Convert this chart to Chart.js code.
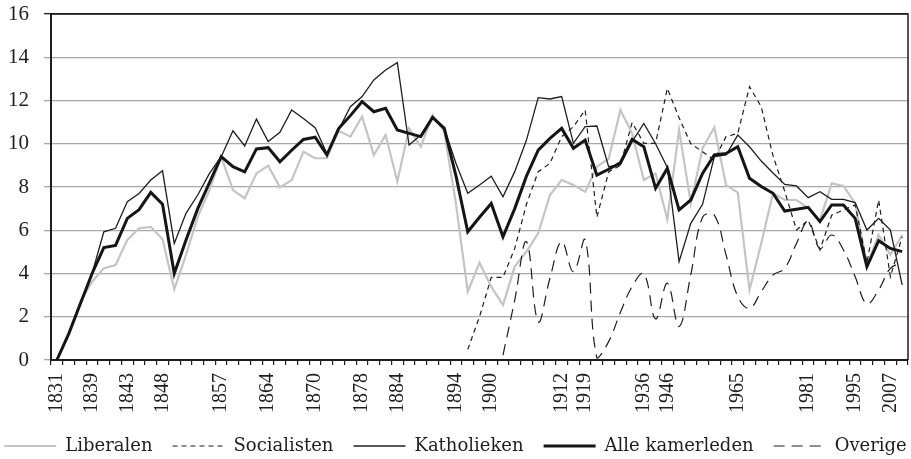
<!DOCTYPE html>
<html>
<head>
<meta charset="utf-8">
<script src="https://cdn.jsdelivr.net/npm/chart.js@4/dist/chart.umd.min.js"></script>
<style>
  html, body { margin: 0; padding: 0; background: #fff; }
  #wrap { width: 911px; height: 459px; }
</style>
</head>
<body>
<div id="wrap"><canvas id="chart" width="911" height="459"></canvas></div>
<script>
// election years (categories), only some of them get a label
const years = [1831,1833,1835,1839,1841,1842,1843,1845,1847,1848,1850,1852,1854,1856,1857,1859,1861,1863,1864,1866,
  1868,1870,1870,1872,1874,1876,1878,1880,1882,1884,1886,1888,1890,1892,1894,1896,1898,1900,1902,1904,
  1906,1908,1910,1912,1914,1919,1921,1925,1929,1932,1936,1939,1946,1949,1950,1954,1958,1961,1965,1968,
  1971,1974,1977,1978,1981,1985,1987,1991,1995,1999,2003,2007,2010];
const shownYears = [1831,1839,1843,1848,1857,1864,1870,1878,1884,1894,1900,1912,1919,1936,1946,1965,1981,1995,2007];

const yTicks = [0, 2, 4, 6, 8, 10, 12, 14, 16];

const liberalen = [0,1.2,2.7,3.62,4.24,4.39,5.55,6.09,6.16,5.58,3.27,4.86,6.63,7.86,9.4,7.86,7.48,8.63,8.99,7.98,
  8.32,9.63,9.33,9.33,10.6,10.33,11.25,9.48,10.4,8.25,10.71,9.86,11.33,10.56,7.2,3.16,4.5,3.39,2.54,4.32,
  5.01,5.86,7.63,8.32,8.09,7.78,8.94,9.3,11.56,10.48,8.32,8.63,6.5,10.64,7.24,9.79,10.76,8.09,7.74,3.24,
  5.4,7.71,7.4,7.4,7.01,6.47,8.17,8.05,7.24,4.39,5.78,4.86,5.78];

const socialisten = [null,null,null,null,null,null,null,null,null,null,null,null,null,null,null,null,null,null,null,null,
  null,null,null,null,null,null,null,null,null,null,null,null,null,null,null,0.49,2.0,3.82,3.82,5.16,
  7.2,8.71,9.09,10.33,10.79,11.56,6.6,8.7,9.0,10.98,10.02,10.02,12.56,11.2,10.0,9.63,9.25,10.33,10.48,12.64,
  11.71,9.45,7.8,6.01,6.47,5.09,6.7,6.94,7.17,4.5,7.4,3.85,5.7];

const katholieken = [0,1.2,2.6,4.0,5.93,6.09,7.32,7.7,8.32,8.75,5.39,6.78,7.63,8.63,9.4,10.6,9.9,11.14,10.1,10.53,
  11.56,11.17,10.74,9.55,10.64,11.71,12.18,12.95,13.41,13.75,9.94,10.4,11.25,10.71,9.09,7.71,8.09,8.5,7.55,8.71,
  10.17,12.13,12.07,12.18,10.02,10.79,10.82,8.94,9.02,10.1,10.94,10.0,8.9,4.55,6.32,7.2,9.4,9.48,10.4,9.86,
  9.2,8.65,8.12,8.05,7.51,7.78,7.43,7.43,7.28,6.01,6.55,6.01,3.47];

const alleKamerleden = [0,1.2,2.6,4.0,5.2,5.3,6.55,6.95,7.75,7.2,4.0,5.55,7.0,8.2,9.4,8.94,8.7,9.76,9.82,9.17,
  9.7,10.2,10.3,9.48,10.7,11.3,11.95,11.48,11.64,10.64,10.48,10.33,11.22,10.71,8.5,5.93,6.6,7.24,5.7,7.0,
  8.5,9.7,10.25,10.71,9.79,10.17,8.55,8.82,9.12,10.2,9.86,7.94,8.86,6.94,7.4,8.63,9.48,9.55,9.86,8.4,
  8.02,7.71,6.89,6.97,7.06,6.4,7.17,7.17,6.55,4.32,5.52,5.16,5.01];

const overige = [null,null,null,null,null,null,null,null,null,null,null,null,null,null,null,null,null,null,null,null,
  null,null,null,null,null,null,null,null,null,null,null,null,null,null,null,null,null,null,0.23,2.77,
  5.47,1.77,3.78,5.47,4.08,5.55,0.1,0.85,2.2,3.4,4.0,1.9,3.55,1.55,3.95,6.6,6.7,4.86,2.93,2.39,
  3.16,3.93,4.24,5.39,6.4,5.16,5.78,5.09,3.85,2.6,3.24,4.24,4.5];

const ink = '#1e1e1e';

// black frame on top and right side of the plot
const framePlugin = {
  id: 'frame',
  afterDatasetsDraw(chart) {
    const { ctx, chartArea: a } = chart;
    ctx.save();
    ctx.strokeStyle = ink;
    ctx.lineWidth = 1.5;
    ctx.beginPath();
    ctx.moveTo(a.left, a.top);
    ctx.lineTo(a.right, a.top);
    ctx.lineTo(a.right, a.bottom);
    ctx.stroke();
    ctx.restore();
  }
};

// one row legend with long line samples, built from the datasets
const legendPlugin = {
  id: 'lineLegend',
  afterDraw(chart) {
    const ctx = chart.ctx;
    const sample = 52, gap = 9, spacing = 20, y = 446;
    ctx.save();
    ctx.font = '18px "DejaVu Serif"';
    const items = chart.data.datasets.map(ds => ({ ds, w: ctx.measureText(ds.label).width }));
    const total = items.reduce((s, it) => s + sample + gap + it.w, 0) + spacing * (items.length - 1);
    let x = (chart.width - total) / 2;
    items.forEach(({ ds, w }) => {
      ctx.strokeStyle = ds.borderColor;
      ctx.lineWidth = ds.borderWidth;
      ctx.setLineDash(ds.borderDash);
      ctx.beginPath();
      ctx.moveTo(x, y);
      ctx.lineTo(x + sample, y);
      ctx.stroke();
      ctx.setLineDash([]);
      ctx.fillStyle = ink;
      ctx.textBaseline = 'middle';
      ctx.fillText(ds.label, x + sample + gap, y);
      x += sample + gap + w + spacing;
    });
    ctx.restore();
  }
};

function line(label, data, color, width, dash, order, tension) {
  return {
    label,
    data,
    borderColor: color,
    backgroundColor: color,
    borderWidth: width,
    borderDash: dash,
    pointRadius: 0,
    tension: tension || 0,
    order
  };
}

new Chart(document.getElementById('chart'), {
  type: 'line',
  data: {
    labels: years.map(String),
    datasets: [
      line('Liberalen', liberalen, '#c4c4c4', 2.2, [], 3),
      line('Socialisten', socialisten, ink, 1.2, [5, 4], 2),
      line('Katholieken', katholieken, ink, 1.3, [], 1),
      line('Alle kamerleden', alleKamerleden, '#151515', 3, [], 0),
      line('Overige', overige, ink, 1.2, [11, 7], 2, 0.4)
    ]
  },
  options: {
    responsive: false,
    animation: false,
    events: [],
    layout: { padding: { top: 14, right: 3, left: 0, bottom: 47 } },
    plugins: {
      tooltip: { enabled: false },
      legend: { display: false }
    },
    scales: {
      x: {
        offset: true,
        grid: {
          offset: true,
          drawOnChartArea: false,
          drawTicks: true,
          tickLength: 5,
          color: ink,
          lineWidth: 1.2
        },
        border: { color: ink, width: 2 },
        ticks: {
          autoSkip: false,
          minRotation: 90,
          maxRotation: 90,
          padding: 8,
          color: ink,
          font: { family: 'Liberation Serif', size: 20 },
          callback: (v, i) => {
            const y = years[i];
            return shownYears.includes(y) && years[i + 1] !== y ? String(y) : '';
          }
        },
        afterFit: s => {
          s.height = 52;
          s.paddingLeft = 0;
          s.paddingRight = 0;
        }
      },
      y: {
        min: 0,
        max: 16,
        afterBuildTicks: s => { s.ticks = yTicks.map(v => ({ value: v })); },
        grid: {
          color: c => c.tick && c.tick.value === 16 ? ink : '#a8a8a8',
          lineWidth: 1.3,
          tickLength: 7
        },
        border: { color: ink, width: 2 },
        ticks: {
          padding: 15,
          color: ink,
          font: { family: 'Liberation Serif', size: 21 }
        },
        afterFit: s => {
          s.width = 51;
          s.paddingTop = 0;
          s.paddingBottom = 0;
        }
      }
    }
  },
  plugins: [framePlugin, legendPlugin]
});
</script>
</body>
</html>
